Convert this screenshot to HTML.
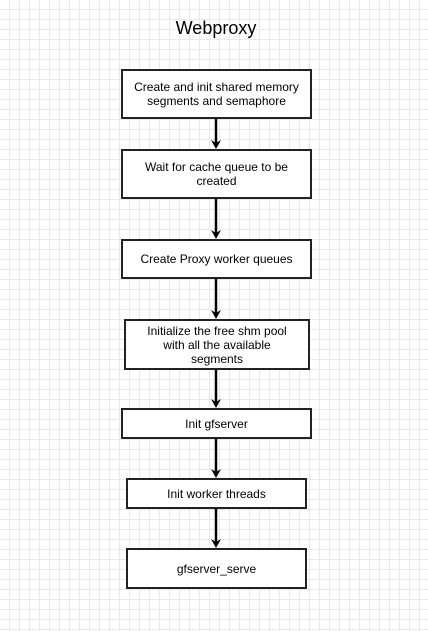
<!DOCTYPE html>
<html><head><style>
body{margin:0;width:428px;height:631px;overflow:hidden;background:#fff;
background-image:linear-gradient(#e8e8f2 1px,transparent 1px),linear-gradient(90deg,#e8e8f2 1px,transparent 1px);
background-size:10px 10px;background-position:-1px -1px;font-family:"Liberation Sans",sans-serif;position:relative}
.b{position:absolute;box-sizing:border-box;border:2px solid #222;background:#fff;display:flex;align-items:center;justify-content:center;text-align:center;font-size:12px;line-height:14px;color:#000;padding:0 8px}
svg{position:absolute;left:0;top:0}
</style></head><body>
<div style="position:absolute;left:0;width:432px;top:18px;text-align:center;font-size:18px">Webproxy</div>
<svg width="428" height="631">
<g stroke="#000" stroke-width="2.5">
<line x1="216" y1="118" x2="216" y2="143"/><line x1="216" y1="198" x2="216" y2="233"/>
<line x1="216" y1="278" x2="216" y2="313"/><line x1="216" y1="369" x2="216" y2="402"/>
<line x1="216" y1="438" x2="216" y2="472"/><line x1="216" y1="508" x2="216" y2="542"/>
</g>
<g fill="#000">
<path d="M211 140 L216 149 L221 140 L216 143Z"/><path d="M211 230 L216 239 L221 230 L216 233Z"/>
<path d="M211 310 L216 319 L221 310 L216 313Z"/><path d="M211 399 L216 408 L221 399 L216 402Z"/>
<path d="M211 469 L216 478 L221 469 L216 472Z"/><path d="M211 539 L216 548 L221 539 L216 542Z"/>
</g></svg>
<div class="b" style="left:121px;top:69px;width:191px;height:50px">Create and init shared memory segments and semaphore</div>
<div class="b" style="left:121px;top:149px;width:191px;height:50px">Wait for cache queue to be created</div>
<div class="b" style="left:121px;top:239px;width:191px;height:40px">Create Proxy worker queues</div>
<div class="b" style="left:124px;top:319px;width:186px;height:51px;padding:0 20px">Initialize the free shm pool with all the available segments</div>
<div class="b" style="left:121px;top:408px;width:191px;height:31px">Init gfserver</div>
<div class="b" style="left:126px;top:478px;width:181px;height:31px">Init worker threads</div>
<div class="b" style="left:126px;top:548px;width:181px;height:41px">gfserver_serve</div>
</body></html>
